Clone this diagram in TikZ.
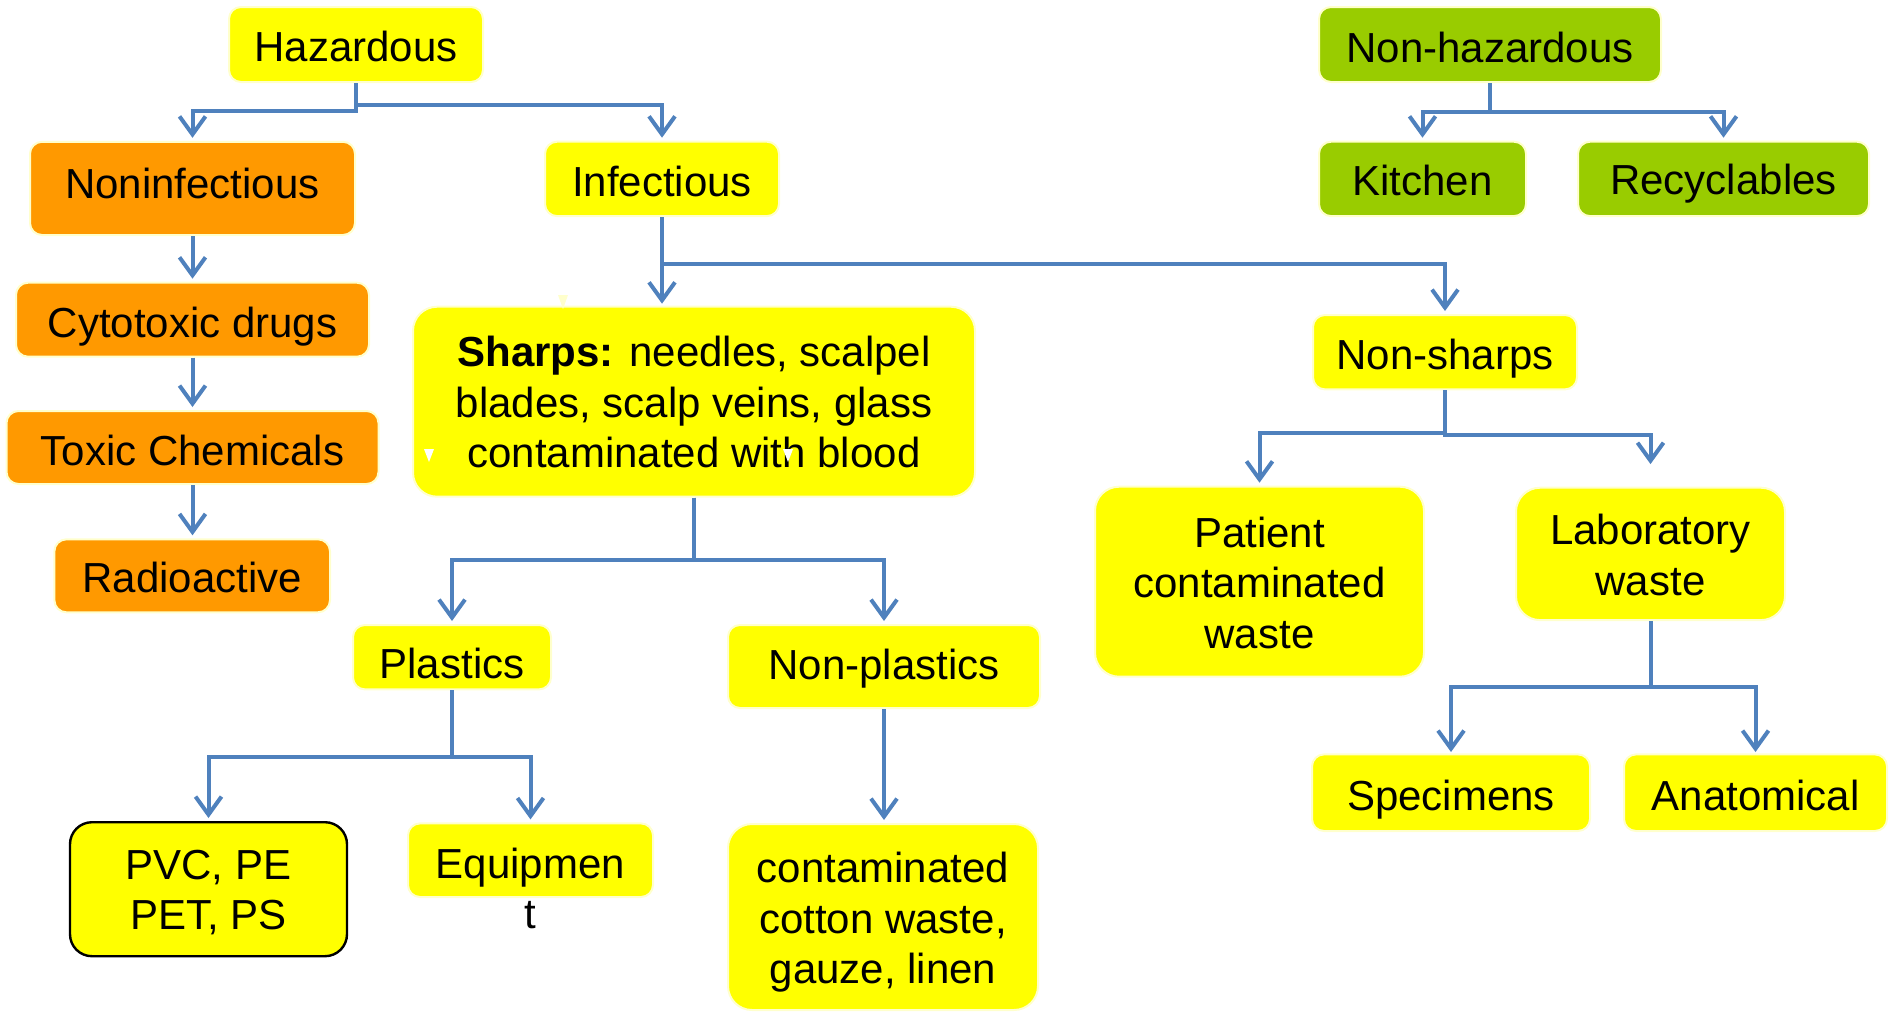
\documentclass[tikz,border=0pt]{standalone}
\usepackage{fontspec}
\setmainfont{Liberation Sans}
\usetikzlibrary{arrows.meta}
\definecolor{ylw}{HTML}{FFFF00}
\definecolor{org}{HTML}{FF9900}
\definecolor{grn}{HTML}{99CC00}
\definecolor{lnk}{HTML}{4F81BD}
\definecolor{glow}{HTML}{FFFFCC}
\newcommand\mytopstrut[1]{\rule{0pt}{#1}}
\newcommand\mybotstrut[1]{\rule[-#1]{0pt}{#1}}
\begin{document}
\begin{tikzpicture}[x=0.5pt,y=-0.5pt,
  box/.style={rounded corners=6pt, draw=glow, line width=1pt, align=center, inner sep=0pt, text=black, font=\fontsize{21}{25.25}\selectfont},
  yb/.style={box, fill=ylw},
  ob/.style={box, fill=org},
  gb/.style={box, fill=grn},
  bigr/.style={rounded corners=12pt},
  bo/.style 2 args={text height=#1pt, text depth=#2pt},
  link/.style={draw=lnk, line width=2pt, shorten >=1.5pt, -{Straight Barb[length=9pt,width=13pt]}}
]
\useasboundingbox (0,0) rectangle (1889,1012);

% top level
\node[yb, bo={18.5}{1.5}, minimum width=127pt, minimum height=37.5pt] (haz) at (356,44.5) {Hazardous};
\node[gb, bo={19}{1}, minimum width=171pt, minimum height=37.5pt] (nonhaz) at (1490,44.5) {Non-hazardous};

% second level
\node[ob, bo={15}{5}, minimum width=162.5pt, minimum height=46.6pt] (noninf) at (192.5,188.4) {Noninfectious};
\node[yb, bo={19}{1}, minimum width=117pt, minimum height=37.2pt] (inf) at (662,178.9) {Infectious};
\node[gb, bo={18.5}{1.5}, minimum width=103.5pt, minimum height=37.2pt] (kitchen) at (1422.5,178.9) {Kitchen};
\node[gb, bo={18}{2}, minimum width=145.5pt, minimum height=37.2pt] (recyc) at (1723.5,178.9) {Recyclables};

% noninfectious chain
\node[ob, bo={18.8}{1.2}, minimum width=176.5pt, minimum height=37pt] (cyto) at (192.5,319.7) {Cytotoxic drugs};
\node[ob, bo={18.75}{1.25}, minimum width=186pt, minimum height=36.5pt] (toxic) at (192.5,447.5) {Toxic Chemicals};
\node[ob, bo={18.45}{1.55}, minimum width=137.8pt, minimum height=36.5pt] (radio) at (192.2,575.8) {Radioactive};

% infectious
\node[yb, bigr, minimum width=281pt, minimum height=95pt] (sharps) at (694,401.7) {\mytopstrut{21.6pt}\textbf{Sharps:} needles, scalpel\\blades, scalp veins, glass\\contaminated with blood\mybotstrut{6pt}};
\node[yb, bo={18.65}{1.35}, minimum width=132pt, minimum height=37.2pt] (nonsharps) at (1445,352.2) {Non-sharps};
\node[yb, bigr, minimum width=164.5pt, minimum height=95pt] (patient) at (1259.5,581.7) {\mytopstrut{22pt}Patient\\contaminated\\waste\mybotstrut{6pt}};
\node[yb, bigr, minimum width=134.5pt, minimum height=66.2pt] (lab) at (1650.5,553.9) {\mytopstrut{22.2pt}Laboratory\\waste\mybotstrut{6pt}};

\node[yb, bo={21}{0}, minimum width=99pt, minimum height=32.2pt] (plastics) at (452,657.2) {Plastics};
\node[yb, bo={16.4}{3.6}, minimum width=156pt, minimum height=41.5pt] (nonplast) at (884,666.5) {Non-plastics};
\node[yb, bo={18.65}{1.35}, minimum width=139pt, minimum height=38.3pt] (spec) at (1451,792.7) {Specimens};
\node[yb, bo={18.65}{1.35}, minimum width=131.5pt, minimum height=38.3pt] (anat) at (1755.5,792.7) {Anatomical};

\node[yb, draw=black, line width=1.2pt, rounded corners=11pt, minimum width=138.5pt, minimum height=67pt] (pvc) at (208.5,889.2) {\mytopstrut{21.3pt}PVC, PE\\PET, PS\mybotstrut{6pt}};
\node[yb, bo={19}{1}, minimum width=122.5pt, minimum height=36.8pt] (equip) at (530.5,860.2) {Equipmen};
\node[anchor=base, inner sep=0pt, font=\fontsize{21}{25.25}\selectfont] (equipt) at (530.5,928) {t};
\node[yb, bigr, minimum width=155pt, minimum height=93pt] (cotton) at (883,917) {\mytopstrut{22pt}contaminated\\cotton waste,\\gauze, linen\mybotstrut{6pt}};

% connectors
\draw[link] (haz.south) -- (haz.south |- 0,111) -| (noninf.north);
\draw[link] (haz.south) -- (haz.south |- 0,105) -| (inf.north);

\draw[link] (nonhaz.south) -- (nonhaz.south |- 0,112) -| (kitchen.north);
\draw[link] (nonhaz.south) -- (nonhaz.south |- 0,112) -| (recyc.north);

\draw[link] (noninf.south) -- (noninf.south |- cyto.north);
\draw[link] (cyto.south) -- (cyto.south |- toxic.north);
\draw[link] (toxic.south) -- (toxic.south |- radio.north);

\draw[link, shorten >=1pt] (inf.south) -- (inf.south |- sharps.north);
\draw[link] (inf.south) -- (inf.south |- 0,264) -| (nonsharps.north);

\draw[link] (nonsharps.south) -- (nonsharps.south |- 0,432.5) -| (patient.north);
\draw[link, shorten >=11.3pt] (nonsharps.south) -- (nonsharps.south |- 0,435) -| (lab.north);

\draw[link] (sharps.south) -- (sharps.south |- 0,560) -| (plastics.north);
\draw[link] (sharps.south) -- (sharps.south |- 0,560) -| (nonplast.north);

\draw[link] (plastics.south) -- (plastics.south |- 0,757) -| (pvc.north);
\draw[link] (plastics.south) -- (plastics.south |- 0,757) -| (equip.north);

\draw[link] (nonplast.south) -- (nonplast.south |- cotton.north);

\draw[link, shorten >=0.7pt] (lab.south) -- (lab.south |- 0,687) -| (spec.north);
\draw[link, shorten >=0.7pt] (lab.south) -- (lab.south |- 0,687) -| (anat.north);

% small pale artifacts
\fill[glow] (558,295) -- (568,295) -- (563,309) -- cycle;
\fill[white] (424,449) -- (434,449) -- (429,462) -- cycle;
\fill[white] (783,449) -- (793,449) -- (788,462) -- cycle;
\end{tikzpicture}
\end{document}
